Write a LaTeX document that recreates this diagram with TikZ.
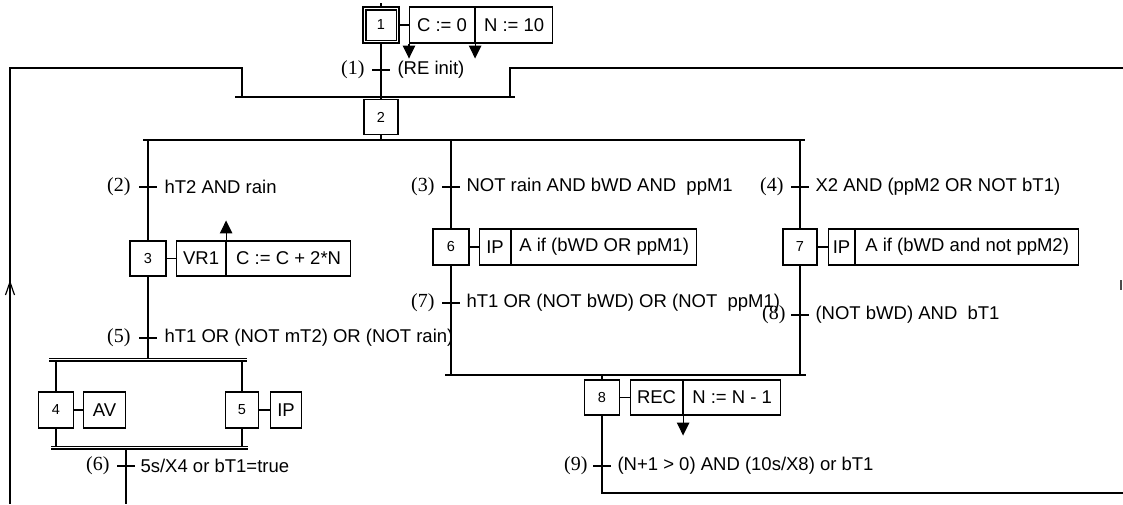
\documentclass[tikz,border=0pt]{standalone}
\usepackage{fontspec}
\setmainfont{Liberation Sans}
\newfontfamily\lblfont{Liberation Serif}
\usetikzlibrary{arrows.meta,calc}
\begin{document}
\begin{tikzpicture}[x=1pt,y=-1pt,
  line width=1.1pt,
  stepbox/.style={draw, line width=1.1pt, minimum width=35pt, minimum height=35pt, inner sep=0pt, font=\fontsize{14.5}{15}\selectfont},
  act/.style={draw, line width=1.1pt, minimum height=35pt, inner sep=0pt, anchor=west, font=\fontsize{18.5}{20}\selectfont},
  tick/.style={line width=2.6pt},
  tnum/.style={anchor=east, inner sep=0pt, font=\lblfont\fontsize{20}{21}\selectfont},
  ttxt/.style={anchor=west, inner sep=0pt, font=\fontsize{18.5}{20}\selectfont},
  arr/.style={-{Triangle[width=12.5pt,length=13pt]}},
  loopline/.style={line width=1.5pt},
  dbl/.style={double, double distance=1.8pt, line width=1.1pt},
]
\useasboundingbox (0,0) rectangle (1123,504);

% ---------- step 1 ----------
\node[stepbox, minimum width=36pt, minimum height=36pt] (s1) at (381,25) {1};
\draw ($(s1.north west)+(3.5,3.5)$) rectangle ($(s1.south east)+(-3.5,-3.5)$);
\coordinate (top) at (381,3);
\draw (top) -- (s1.north);
\node[act, minimum width=65pt, minimum height=36pt] (a1a) at (409,25) {C := 0};
\node[act, minimum width=77pt, minimum height=36pt] (a1b) at (a1a.east) {N := 10};
\draw (s1.east) -- (a1a.west);
\coordinate (a1x) at ($(a1a.south west)+(0,15)$);
\coordinate (a1y) at ($(a1a.south east)+(0,15)$);
\draw[arr] (a1a.south west) -- (a1x);
\draw[arr] (a1a.south east) -- (a1y);

% transition 1
\coordinate (t1) at (381,70);
\draw[tick] ($(t1)+(-9,0)$) -- ($(t1)+(9,0)$);
\node[tnum] (n1) at ($(t1)+(-16,0)$) {(1)};
\node[ttxt] (c1) at ($(t1)+(16,0)$) {(RE init)};

% ---------- step 2 ----------
\node[stepbox, minimum width=34pt] (s2) at (381,117) {2};
\draw (s1.south) -- (s2.north);

% OR convergence above step 2
\coordinate (cvL) at (235,97);
\coordinate (cvR) at (515,97);
\draw (cvL) -- (cvR);
\coordinate (lA) at (242,97);
\coordinate (lB) at (10,68);
\coordinate (lC) at (10,504);
\draw[loopline] (lA) |- (lB) -- (lC);
\coordinate (rA) at (510,97);
\coordinate (rB) at (1123,68);
\draw[loopline] (rA) |- (rB);
% small arrow mark on left loop
\coordinate (mk1) at (5.5,295);
\coordinate (mk2) at (10,282);
\coordinate (mk3) at (14.5,295);
\draw[line width=1.2pt] (mk1) -- (mk2) -- (mk3);
% small mark on right edge
\coordinate (mr1) at (1121,280);
\coordinate (mr2) at (1121,290);
\draw[line width=2pt, black!70] (mr1) -- (mr2);

% OR divergence below step 2
\coordinate (dvL) at (143,140);
\coordinate (dvR) at (805,140);
\coordinate (dvC) at (381,140);
\draw (dvL) -- (dvR);
\draw (s2.south) -- (dvC);
\coordinate (b1) at (148,140);
\coordinate (b2) at (451,140);
\coordinate (b3) at (800,140);

% ---------- branch 1 ----------
\node[stepbox, minimum width=36pt] (s3) at (148,258.5) {3};
\draw (b1) -- (s3.north);
\coordinate (t2) at (148,187);
\draw[tick] ($(t2)+(-9,0)$) -- ($(t2)+(9,0)$);
\node[tnum] (n2) at ($(t2)+(-17,0)$) {(2)};
\node[ttxt] (c2) at ($(t2)+(16,0)$) {hT2 AND rain};
\node[act, minimum width=49pt] (a3a) at (176,258.5) {VR1};
\node[act, minimum width=124pt] (a3b) at (a3a.east) {C := C + 2*N};
\draw (s3.east) -- (a3a.west);
\coordinate (a3x) at ($(a3a.north east)+(0,-20)$);
\draw[arr] (a3a.north east) -- (a3x);

\coordinate (sd) at (148,358.5);
\draw (s3.south) -- (sd);
\coordinate (t5) at (148,338);
\draw[tick] ($(t5)+(-9,0)$) -- ($(t5)+(9,0)$);
\node[tnum] (n5) at ($(t5)+(-17,0)$) {(5)};
\node[ttxt] (c5) at ($(t5)+(16,0)$) {hT1 OR (NOT mT2) OR (NOT rain)};

% simultaneous divergence
\coordinate (sdL) at (49,359.5);
\coordinate (sdR) at (247,359.5);
\draw[dbl] (sdL) -- (sdR);
\coordinate (sd4) at (56,361);
\coordinate (sd5) at (242,361);
\node[stepbox, minimum width=35pt, minimum height=36pt] (s4) at (56,410) {4};
\node[stepbox, minimum width=33pt, minimum height=36pt] (s5) at (242,410) {5};
\draw (sd4) -- (s4.north);
\draw (sd5) -- (s5.north);
\node[act, minimum width=42pt, minimum height=36pt] (a4) at (83,410) {AV};
\node[act, minimum width=31pt, minimum height=36pt] (a5) at (270,410) {IP};
\draw (s4.east) -- (a4.west);
\draw (s5.east) -- (a5.west);
% simultaneous convergence
\coordinate (scL) at (51,447.5);
\coordinate (scR) at (248,447.5);
\draw[dbl] (scL) -- (scR);
\coordinate (sc4) at (56,446);
\coordinate (sc5) at (242,446);
\draw (s4.south) -- (sc4);
\draw (s5.south) -- (sc5);
\coordinate (sc6) at (126,449);
\coordinate (bot6) at (126,504);
\draw (sc6) -- (bot6);
\coordinate (t6) at (126,466);
\draw[tick] ($(t6)+(-9,0)$) -- ($(t6)+(9,0)$);
\node[tnum] (n6) at ($(t6)+(-16,0)$) {(6)};
\node[ttxt] (c6) at ($(t6)+(14,0)$) {5s/X4 or bT1=true};

% ---------- branch 2 ----------
\node[stepbox, minimum width=36pt, minimum height=36pt] (s6) at (451,247) {6};
\draw (b2) -- (s6.north);
\coordinate (t3) at (451,187);
\draw[tick] ($(t3)+(-9,0)$) -- ($(t3)+(9,0)$);
\node[tnum] (n3) at ($(t3)+(-16,0)$) {(3)};
\node[ttxt] (c3) at ($(t3)+(15,0)$) {NOT rain AND bWD AND\ \ ppM1};
\node[act, minimum width=31pt, minimum height=36pt] (a6a) at (479,247) {IP};
\node[act, minimum width=185pt, minimum height=36pt] (a6b) at (a6a.east) {A if (bWD OR ppM1)};
\draw (s6.east) -- (a6a.west);
\coordinate (cj2) at (451,375);
\draw (s6.south) -- (cj2);
\coordinate (t7) at (451,303);
\draw[tick] ($(t7)+(-9,0)$) -- ($(t7)+(9,0)$);
\node[tnum] (n7) at ($(t7)+(-16,0)$) {(7)};
\node[ttxt] (c7) at ($(t7)+(15,0)$) {hT1 OR (NOT bWD) OR (NOT\ \ ppM1)};

% ---------- branch 3 ----------
\node[stepbox, minimum width=34pt, minimum height=36pt] (s7) at (800,247) {7};
\draw (b3) -- (s7.north);
\coordinate (t4) at (800,187);
\draw[tick] ($(t4)+(-9,0)$) -- ($(t4)+(9,0)$);
\node[tnum] (n4) at ($(t4)+(-16,0)$) {(4)};
\node[ttxt] (c4) at ($(t4)+(15,0)$) {X2 AND (ppM2 OR NOT bT1)};
\node[act, minimum width=26pt, minimum height=36pt] (a7a) at (828,247) {IP};
\node[act, minimum width=223pt, minimum height=36pt] (a7b) at (a7a.east) {A if (bWD and not ppM2)};
\draw (s7.east) -- (a7a.west);
\coordinate (cj3) at (800,375);
\draw (s7.south) -- (cj3);
\coordinate (t8) at (800,315);
\draw[tick] ($(t8)+(-9,0)$) -- ($(t8)+(9,0)$);
\node[tnum] (n8) at ($(t8)+(-14,0)$) {(8)};
\node[ttxt] (c8) at ($(t8)+(15,0)$) {(NOT bWD) AND\ \ bT1};

% OR convergence above step 8
\coordinate (cvL2) at (445,375);
\coordinate (cvR2) at (806,375);
\draw (cvL2) -- (cvR2);
\coordinate (cv8) at (602,375);

% ---------- step 8 ----------
\node[stepbox, minimum width=35pt] (s8) at (602,397.5) {8};
\draw (cv8) -- (s8.north);
\node[act, minimum width=52pt] (a8a) at (630,397.5) {REC};
\node[act, minimum width=97pt] (a8b) at (a8a.east) {N := N - 1};
\draw (s8.east) -- (a8a.west);
\coordinate (a8x) at ($(a8a.south east)+(0,20)$);
\draw[arr] (a8a.south east) -- (a8x);
\coordinate (t9) at (602,466);
\coordinate (lp9) at (1123,493);
\draw[loopline] (s8.south) |- (lp9);
\draw[tick] ($(t9)+(-9,0)$) -- ($(t9)+(9,0)$);
\node[tnum] (n9) at ($(t9)+(-14,0)$) {(9)};
\node[ttxt] (c9) at ($(t9)+(15,0)$) {(N+1 > 0) AND (10s/X8) or bT1};
\end{tikzpicture}
\end{document}
